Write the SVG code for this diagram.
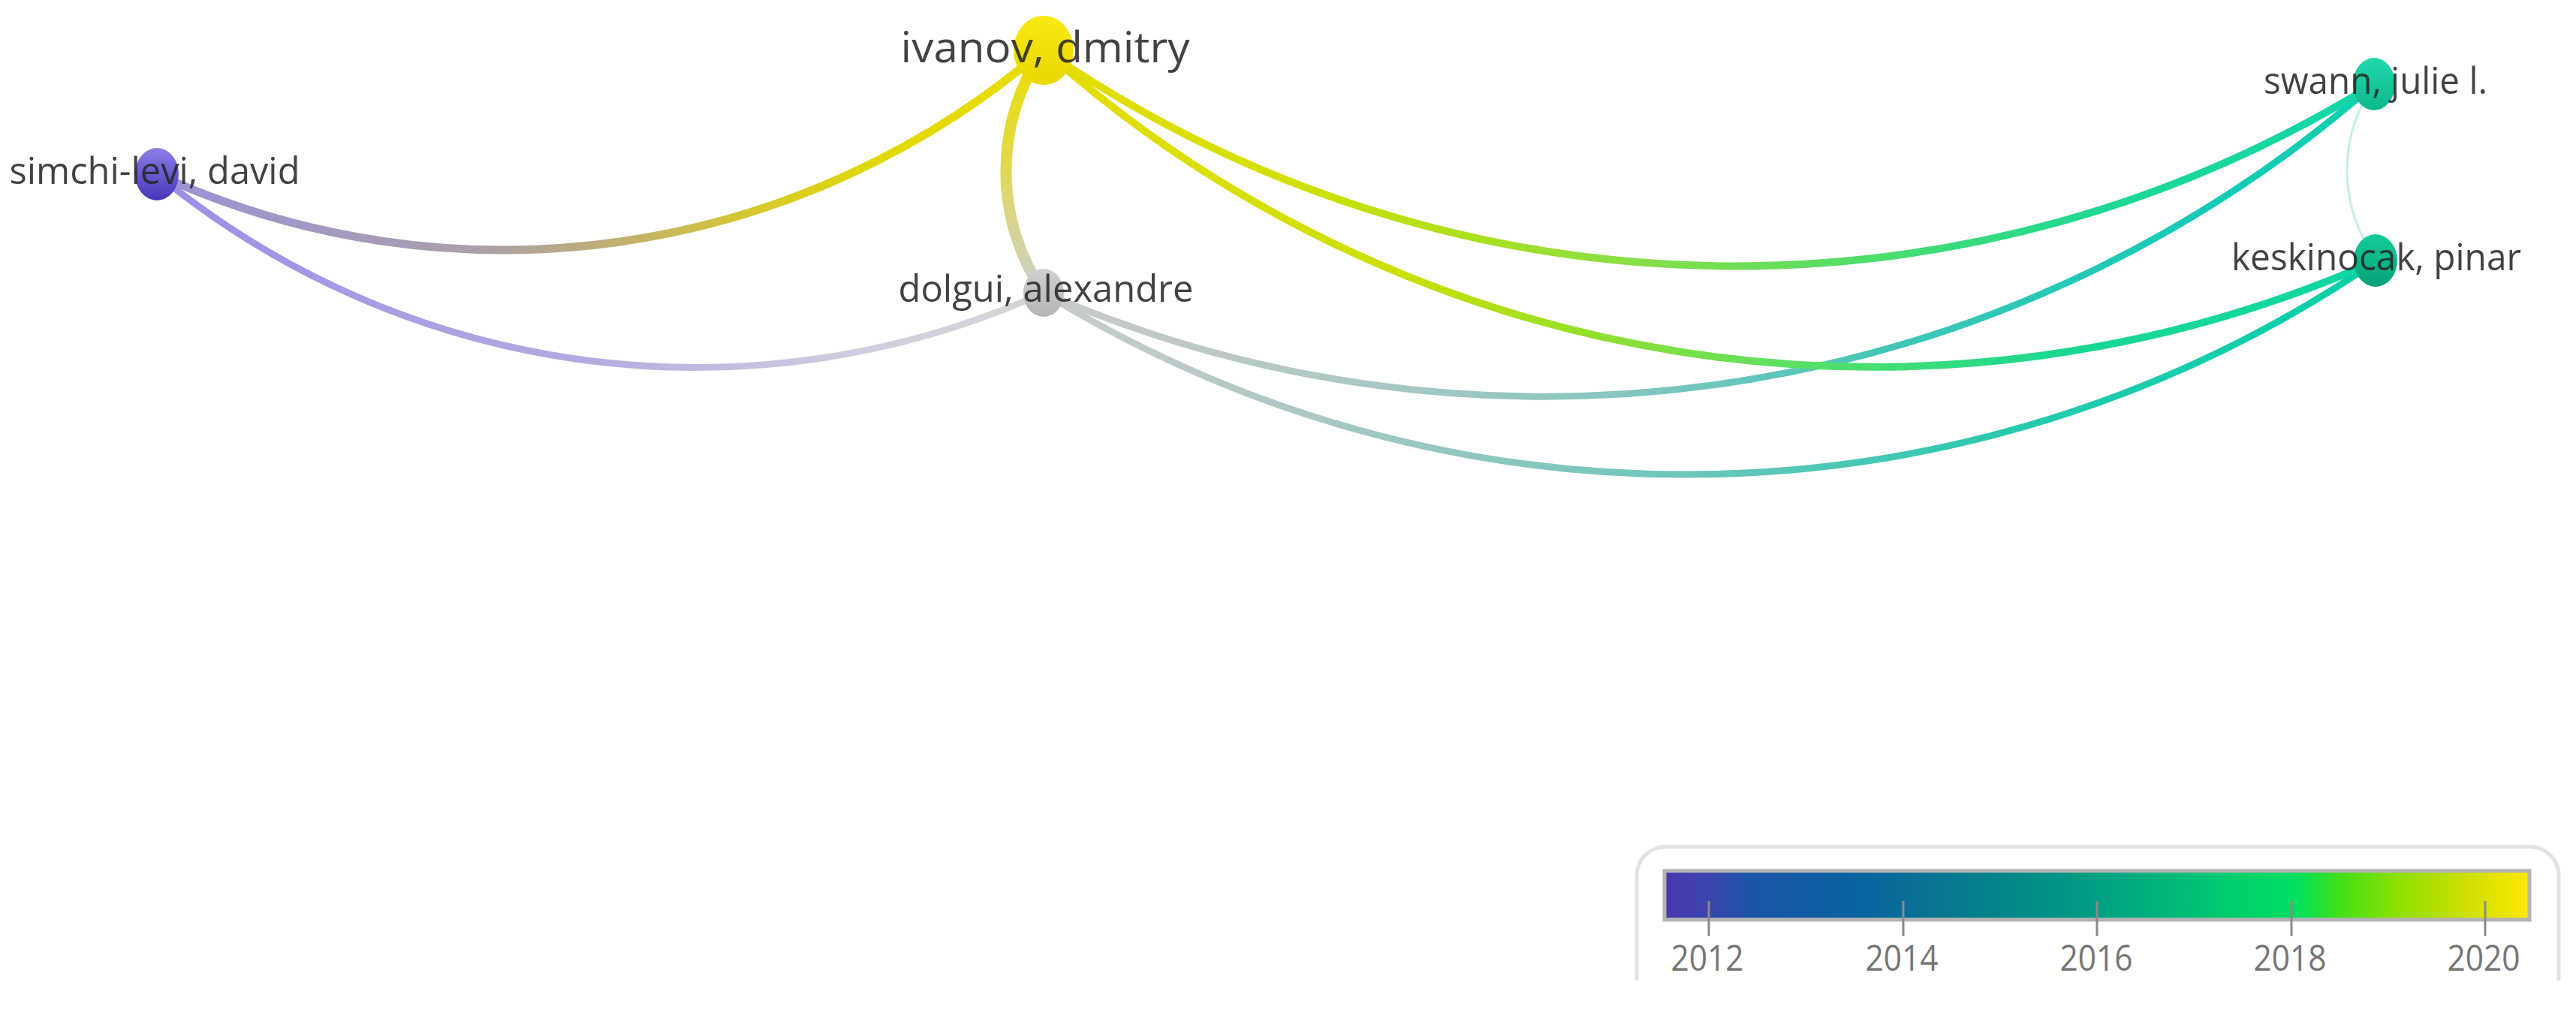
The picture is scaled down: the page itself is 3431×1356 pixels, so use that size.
<svg xmlns="http://www.w3.org/2000/svg" width="3431" height="1356" viewBox="0 0 3431 1356">
<style>
.edge{fill:none;stroke-linecap:round}
.lbl{font-family:"Open Sans","DejaVu Sans",sans-serif;fill:#262626;fill-opacity:0.87;text-anchor:middle}
.tick{stroke:#8a8a8a;stroke-width:3}
.yr{font-family:"Open Sans","DejaVu Sans",sans-serif;font-size:48px;fill:#757575;text-anchor:middle}
</style>
<defs>
<linearGradient id="g1" gradientUnits="userSpaceOnUse" x1="209" y1="232" x2="1390" y2="66">
<stop offset="0" stop-color="#9c92d6"/><stop offset="0.35" stop-color="#aaa0a8"/><stop offset="0.5" stop-color="#c2b070"/><stop offset="0.65" stop-color="#d6c830"/><stop offset="0.8" stop-color="#e2d800"/><stop offset="1" stop-color="#e8de00"/>
</linearGradient>
<linearGradient id="g2" gradientUnits="userSpaceOnUse" x1="209" y1="232" x2="1390" y2="390">
<stop offset="0" stop-color="#9a8ee6"/><stop offset="0.5" stop-color="#b3abe0"/><stop offset="0.8" stop-color="#cfcde0"/><stop offset="1" stop-color="#d6d6d6"/>
</linearGradient>
<linearGradient id="g3" gradientUnits="userSpaceOnUse" x1="1390" y1="66" x2="1390" y2="390">
<stop offset="0" stop-color="#ebdf00"/><stop offset="0.4" stop-color="#e2da40"/><stop offset="0.75" stop-color="#d6d496"/><stop offset="1" stop-color="#cfcfcf"/>
</linearGradient>
<linearGradient id="g4" gradientUnits="userSpaceOnUse" x1="1390" y1="66" x2="3162" y2="112">
<stop offset="0" stop-color="#e6de00"/><stop offset="0.2" stop-color="#d0e000"/><stop offset="0.33" stop-color="#a8e020"/><stop offset="0.45" stop-color="#86e048"/><stop offset="0.57" stop-color="#62de5e"/><stop offset="0.69" stop-color="#38dc7c"/><stop offset="0.8" stop-color="#1ed894"/><stop offset="1" stop-color="#12d6aa"/>
</linearGradient>
<linearGradient id="g5" gradientUnits="userSpaceOnUse" x1="1390" y1="66" x2="3166" y2="347">
<stop offset="0" stop-color="#e6de00"/><stop offset="0.28" stop-color="#cce000"/><stop offset="0.42" stop-color="#98e028"/><stop offset="0.58" stop-color="#5ce064"/><stop offset="0.78" stop-color="#18d892"/><stop offset="1" stop-color="#10d6a4"/>
</linearGradient>
<linearGradient id="g6" gradientUnits="userSpaceOnUse" x1="1390" y1="390" x2="3162" y2="112">
<stop offset="0" stop-color="#cacaca"/><stop offset="0.17" stop-color="#b4c8c4"/><stop offset="0.4" stop-color="#88c6bf"/><stop offset="0.64" stop-color="#3ac6b6"/><stop offset="0.85" stop-color="#14cab6"/><stop offset="1" stop-color="#10d0b0"/>
</linearGradient>
<linearGradient id="g7" gradientUnits="userSpaceOnUse" x1="1390" y1="390" x2="3166" y2="347">
<stop offset="0" stop-color="#cacccc"/><stop offset="0.2" stop-color="#aac8c4"/><stop offset="0.49" stop-color="#68c6ba"/><stop offset="0.74" stop-color="#24caae"/><stop offset="1" stop-color="#04d0a8"/>
</linearGradient>
<linearGradient id="nY" x1="0" y1="0" x2="0" y2="1"><stop offset="0" stop-color="#f8ea10"/><stop offset="1" stop-color="#ead800"/></linearGradient>
<linearGradient id="nP" x1="0" y1="0" x2="0" y2="1"><stop offset="0" stop-color="#8c7ee8"/><stop offset="1" stop-color="#4536b8"/></linearGradient>
<linearGradient id="nG" x1="0" y1="0" x2="0" y2="1"><stop offset="0" stop-color="#d0d0d0"/><stop offset="1" stop-color="#b4b4b4"/></linearGradient>
<linearGradient id="nT1" x1="0" y1="0" x2="0" y2="1"><stop offset="0" stop-color="#22d8aa"/><stop offset="1" stop-color="#0cb88c"/></linearGradient>
<linearGradient id="nT2" x1="0" y1="0" x2="0" y2="1"><stop offset="0" stop-color="#14cc9a"/><stop offset="1" stop-color="#05a07a"/></linearGradient>
<linearGradient id="bar" x1="0" y1="0" x2="1" y2="0">
<stop offset="0" stop-color="#4838b0"/><stop offset="0.05" stop-color="#3c44b0"/><stop offset="0.1" stop-color="#1a55a8"/><stop offset="0.22" stop-color="#0a62a0"/><stop offset="0.33" stop-color="#08788f"/><stop offset="0.45" stop-color="#009386"/><stop offset="0.55" stop-color="#00ad7e"/><stop offset="0.65" stop-color="#00cc70"/><stop offset="0.73" stop-color="#00e060"/><stop offset="0.78" stop-color="#40e018"/><stop offset="0.85" stop-color="#90e000"/><stop offset="0.93" stop-color="#d0e000"/><stop offset="1" stop-color="#ffe800"/>
</linearGradient>
<clipPath id="legclip"><rect x="2150" y="1100" width="1281" height="206"/></clipPath>
</defs>
<rect x="0" y="0" width="3431" height="1356" fill="#ffffff"/>
<g id="connectors">
<path class="edge" d="M 209 232 A 1129 1129 0 0 0 1390 390" stroke="url(#g2)" stroke-width="9"/>
<path class="edge" d="M 209 232 A 1104 1104 0 0 0 1390 66" stroke="url(#g1)" stroke-width="11"/>
<path class="edge" d="M 1390 390 A 1631 1631 0 0 0 3166 347" stroke="url(#g7)" stroke-width="9"/>
<path class="edge" d="M 1390 390 A 1677 1677 0 0 0 3162 112" stroke="url(#g6)" stroke-width="9"/>
<path class="edge" d="M 1390 66 A 1657 1657 0 0 0 3166 347" stroke="url(#g5)" stroke-width="10"/>
<path class="edge" d="M 1390 66 A 1615 1615 0 0 0 3162 112" stroke="url(#g4)" stroke-width="10"/>
<path class="edge" d="M 1390 66 A 287 287 0 0 0 1390 390" stroke="url(#g3)" stroke-width="15"/>
<path class="edge" d="M 3162 112 A 201 201 0 0 0 3166 347" stroke="#c6f0e6" stroke-width="3"/>
</g>
<g id="node-simchi-levi">
<ellipse cx="209" cy="232" rx="29" ry="35" fill="url(#nP)"/>
<text class="lbl" x="206" y="245" font-size="49" textLength="387" lengthAdjust="spacingAndGlyphs">simchi-levi, david</text>
</g>
<g id="node-dolgui">
<ellipse cx="1390" cy="390" rx="27" ry="32" fill="url(#nG)"/>
<text class="lbl" x="1393" y="402" font-size="49" textLength="393" lengthAdjust="spacingAndGlyphs">dolgui, alexandre</text>
</g>
<g id="node-ivanov">
<ellipse cx="1390" cy="67" rx="40" ry="46" fill="url(#nY)"/>
<text class="lbl" x="1392" y="83" font-size="57" textLength="385" lengthAdjust="spacingAndGlyphs">ivanov, dmitry</text>
</g>
<g id="node-swann">
<ellipse cx="3162" cy="112" rx="28" ry="35" fill="url(#nT1)"/>
<text class="lbl" x="3164" y="125" font-size="49" textLength="298" lengthAdjust="spacingAndGlyphs">swann, julie l.</text>
</g>
<g id="node-keskinocak">
<ellipse cx="3164" cy="347" rx="29" ry="35" fill="url(#nT2)"/>
<text class="lbl" x="3165" y="360" font-size="49" textLength="386" lengthAdjust="spacingAndGlyphs">keskinocak, pinar</text>
</g>
<g id="legend">
<rect x="2180" y="1128" width="1228" height="230" rx="38" fill="none" stroke="#e2e2e2" stroke-width="5" clip-path="url(#legclip)"/>
<rect x="2217" y="1160" width="1152" height="65" fill="url(#bar)" stroke="#b4b4b4" stroke-width="5"/>
<line class="tick" x1="2276" y1="1200" x2="2276" y2="1247"/>
<line class="tick" x1="2535" y1="1200" x2="2535" y2="1247"/>
<line class="tick" x1="2793" y1="1200" x2="2793" y2="1247"/>
<line class="tick" x1="3052" y1="1200" x2="3052" y2="1247"/>
<line class="tick" x1="3310" y1="1200" x2="3310" y2="1247"/>
<text class="yr" x="2274" y="1293" textLength="97" lengthAdjust="spacingAndGlyphs">2012</text>
<text class="yr" x="2533" y="1293" textLength="97" lengthAdjust="spacingAndGlyphs">2014</text>
<text class="yr" x="2792" y="1293" textLength="97" lengthAdjust="spacingAndGlyphs">2016</text>
<text class="yr" x="3050" y="1293" textLength="97" lengthAdjust="spacingAndGlyphs">2018</text>
<text class="yr" x="3308" y="1293" textLength="97" lengthAdjust="spacingAndGlyphs">2020</text>
</g>
</svg>
